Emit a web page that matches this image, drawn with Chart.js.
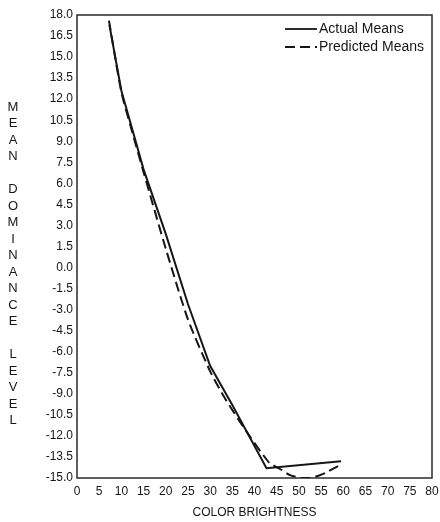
<!DOCTYPE html>
<html>
<head>
<meta charset="utf-8">
<script src="https://cdn.jsdelivr.net/npm/chart.js@4.4.0/dist/chart.umd.min.js"></script>
<style>
  html, body { margin: 0; padding: 0; background: #fff; }
  #wrap { width: 440px; height: 522px; }
</style>
</head>
<body>
<div id="wrap"><canvas id="dominanceChart" width="440" height="522"></canvas></div>
<script>
// values
const actualX = [7.3, 10, 12.5, 15, 20, 25, 30, 35, 42.7, 59.5];
const actualY = [17.3, 12.6, 9.8, 7.0, 2.4, -2.6, -7.0, -9.8, -14.3, -13.8];
const predictedX = [7.2, 10, 12.5, 15, 20, 25, 30, 33.3, 38, 43.3, 46, 48, 50.5, 52.5, 54.7, 56.2, 59.1];
const predictedY = [17.6, 12.5, 9.6, 6.8, 1.35, -3.7, -7.4, -9.3, -11.6, -13.9, -14.4, -14.8, -15.0, -15.0, -14.8, -14.6, -14.1];
const seriesNames = ["Actual Means", "Predicted Means"];
const xTitle = "COLOR BRIGHTNESS";
const yTitle = "MEAN DOMINANCE LEVEL";
const xMin = 0, xMax = 80, xStep = 5;
const yMin = -15, yMax = 18, yStep = 1.5;

const FONT = "'Liberation Sans', Arial, Helvetica, sans-serif";
const INK = "#161616";

const toPoints = (xs, ys) => xs.map((x, i) => ({ x: x, y: ys[i] }));

// box round the plot area (top and right sides included)
const framePlugin = {
  id: "frame",
  beforeDatasetsDraw(chart) {
    const { ctx, chartArea: a } = chart;
    ctx.save();
    ctx.strokeStyle = "#2a2a2a";
    ctx.lineWidth = 1.5;
    ctx.strokeRect(a.left, a.top, a.right - a.left, a.bottom - a.top);
    ctx.restore();
  }
};

// y title written as a column of upright letters
const stackedTitlePlugin = {
  id: "stackedTitle",
  afterDraw(chart) {
    const ctx = chart.ctx;
    ctx.save();
    ctx.fillStyle = INK;
    ctx.font = "13px " + FONT;
    ctx.textAlign = "center";
    ctx.textBaseline = "middle";
    for (let i = 0; i < yTitle.length; i++) {
      ctx.fillText(yTitle[i], 13, 107 + i * 16.5);
    }
    ctx.restore();
  }
};

// legend in the top right corner of the plot
const cornerLegendPlugin = {
  id: "cornerLegend",
  afterDatasetsDraw(chart) {
    const ctx = chart.ctx;
    const a = chart.chartArea;
    const lineStart = a.right - 147;
    const lineEnd = lineStart + 32;
    ctx.save();
    ctx.font = "14px " + FONT;
    ctx.textBaseline = "middle";
    chart.data.datasets.forEach((ds, i) => {
      const y = a.top + 14 + i * 18;
      ctx.strokeStyle = ds.borderColor;
      ctx.lineWidth = 1.8;
      ctx.setLineDash(ds.borderDash || []);
      ctx.beginPath();
      ctx.moveTo(lineStart, y);
      ctx.lineTo(lineEnd, y);
      ctx.stroke();
      ctx.setLineDash([]);
      ctx.fillStyle = INK;
      ctx.fillText(ds.label, lineEnd + 2, y);
    });
    ctx.restore();
  }
};

let myLineChart;

const buildChart = () => {
  const chartRef = document.getElementById("dominanceChart").getContext("2d");

  if (typeof myLineChart !== "undefined") myLineChart.destroy();

  myLineChart = new Chart(chartRef, {
    type: "line",
    data: {
      datasets: [
        {
          label: seriesNames[0],
          data: toPoints(actualX, actualY),
          borderColor: INK,
          borderWidth: 2,
          pointRadius: 0,
          tension: 0,
          fill: false
        },
        {
          label: seriesNames[1],
          data: toPoints(predictedX, predictedY),
          borderColor: INK,
          borderWidth: 2,
          borderDash: [10, 5],
          pointRadius: 0,
          tension: 0.2,
          fill: false
        }
      ]
    },
    options: {
      responsive: false,
      animation: false,
      layout: { padding: { left: 0, top: 15, right: 8, bottom: 0 } },
      plugins: {
        legend: { display: false },
        tooltip: { enabled: false }
      },
      scales: {
        x: {
          type: "linear",
          min: xMin,
          max: xMax,
          grid: { display: false, drawTicks: false },
          border: { display: false },
          ticks: {
            stepSize: xStep,
            autoSkip: false,
            maxRotation: 0,
            padding: 6,
            color: INK,
            font: { family: FONT, size: 12 }
          },
          title: {
            display: true,
            text: xTitle,
            color: INK,
            font: { family: FONT, size: 12 },
            padding: { top: 0, bottom: 2 }
          },
          afterFit: (scale) => {
            scale.height = 44;
            scale.paddingLeft = 0;
            scale.paddingRight = 0;
          }
        },
        y: {
          type: "linear",
          min: yMin,
          max: yMax,
          grid: { display: false, drawTicks: false },
          border: { display: false },
          ticks: {
            stepSize: yStep,
            autoSkip: false,
            padding: 4,
            color: INK,
            font: { family: FONT, size: 12 },
            callback: (v) => v.toFixed(1)
          },
          afterFit: (scale) => { scale.width = 77; }
        }
      }
    },
    plugins: [framePlugin, cornerLegendPlugin, stackedTitlePlugin]
  });
};

buildChart();
</script>
</body>
</html>
